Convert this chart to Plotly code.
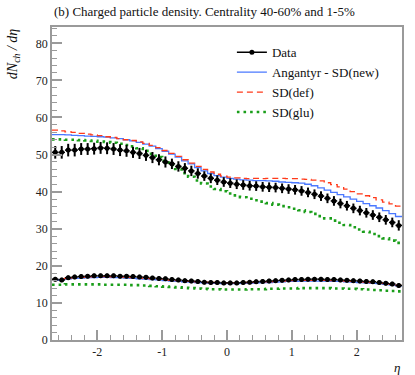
import numpy as np
import plotly.graph_objects as go

# eta bins (width 0.1, from -2.7 to 2.7)
eta_edges = np.round(np.linspace(-2.7, 2.7, 55), 2)
eta = np.round((eta_edges[:-1] + eta_edges[1:]) / 2, 3)

# centrality 1-5% (upper curves)
data_hi = [50.6, 50.6, 51.2, 51.2, 51.5, 51.5, 51.6, 51.8, 51.7, 51.5,
           51.2, 51.0, 50.6, 50.3, 49.8, 49.2, 48.6, 48.0, 47.5, 46.8,
           46.3, 45.6, 44.9, 44.2, 43.6, 43.1, 42.6, 42.3, 42.0, 41.8,
           41.6, 41.5, 41.3, 41.2, 41.1, 40.9, 40.7, 40.5, 40.2, 39.8,
           39.3, 38.8, 38.2, 37.5, 36.8, 36.2, 35.5, 34.9, 34.3, 33.7,
           33.1, 32.4, 31.7, 30.9]
err_hi = [1.7, 1.7, 1.7, 1.7, 1.6, 1.6, 1.6, 1.6, 1.6, 1.6,
          1.6, 1.6, 1.5, 1.5, 1.5, 1.5, 1.5, 1.5, 1.4, 1.4,
          1.4, 1.4, 1.4, 1.3, 1.3, 1.3, 1.3, 1.3, 1.3, 1.3,
          1.3, 1.3, 1.3, 1.3, 1.3, 1.3, 1.3, 1.3, 1.3, 1.3,
          1.3, 1.3, 1.3, 1.3, 1.3, 1.3, 1.3, 1.3, 1.3, 1.3,
          1.3, 1.3, 1.3, 1.4]
sdnew_hi = [55.4, 55.4, 55.3, 55.2, 55.1, 55.0, 54.9, 54.8, 54.7, 54.5,
            54.3, 54.0, 53.7, 53.3, 52.8, 52.3, 51.6, 50.9, 50.1, 49.3,
            48.3, 47.5, 46.5, 45.6, 44.9, 44.3, 43.9, 43.6, 43.4, 43.2,
            43.1, 43.0, 43.0, 42.9, 42.8, 42.6, 42.5, 42.4, 42.3, 42.0,
            41.6, 41.0, 40.4, 39.8, 39.2, 38.6, 38.0, 37.4, 36.8, 36.2,
            35.6, 34.9, 34.1, 33.3]
sddef_hi = [56.6, 56.4, 56.1, 56.0, 55.7, 55.5, 55.3, 55.1, 54.8, 54.6,
            54.3, 54.0, 53.8, 53.4, 53.0, 52.5, 51.9, 51.1, 50.3, 49.5,
            48.6, 47.7, 46.8, 46.0, 45.3, 44.7, 44.2, 43.9, 43.7, 43.6,
            43.5, 43.6, 43.5, 43.6, 43.6, 43.6, 43.5, 43.5, 43.4, 43.3,
            43.1, 42.9, 42.4, 41.9, 41.3, 40.7, 40.0, 39.4, 38.9, 38.4,
            37.8, 37.2, 36.7, 36.1]
sdglu_hi = [54.1, 54.1, 54.0, 54.0, 53.9, 53.8, 53.7, 53.5, 53.4, 53.2,
            52.9, 52.6, 52.2, 51.7, 51.0, 50.2, 49.3, 48.3, 47.2, 46.1,
            45.0, 44.0, 43.0, 42.2, 41.4, 40.7, 40.1, 39.5, 39.0, 38.5,
            38.1, 37.7, 37.3, 36.9, 36.5, 36.1, 35.8, 35.4, 35.0, 34.5,
            34.0, 33.4, 32.8, 32.2, 31.6, 31.0, 30.4, 29.8, 29.2, 28.6,
            28.0, 27.4, 26.8, 26.2]

# centrality 40-60% (lower curves)
data_lo = [16.4, 16.2, 16.8, 17.0, 17.1, 17.2, 17.3, 17.3, 17.3, 17.3,
           17.2, 17.2, 17.1, 17.0, 16.9, 16.7, 16.6, 16.5, 16.3, 16.2,
           16.0, 15.9, 15.8, 15.6, 15.5, 15.5, 15.4, 15.4, 15.4, 15.5,
           15.6, 15.7, 15.8, 15.9, 16.0, 16.1, 16.2, 16.3, 16.3, 16.4,
           16.4, 16.4, 16.3, 16.3, 16.2, 16.1, 16.0, 15.9, 15.8, 15.7,
           15.5, 15.3, 15.1, 14.7]
err_lo = [0.6] * 54
sdnew_lo = [16.1, 16.3, 16.5, 16.6, 16.7, 16.8, 16.8, 16.9, 16.9, 16.8,
            16.8, 16.7, 16.6, 16.5, 16.4, 16.3, 16.2, 16.0, 15.9, 15.8,
            15.7, 15.6, 15.5, 15.4, 15.3, 15.3, 15.2, 15.2, 15.2, 15.3,
            15.3, 15.4, 15.5, 15.5, 15.6, 15.7, 15.8, 15.8, 15.9, 15.9,
            15.9, 15.9, 15.9, 15.8, 15.8, 15.7, 15.6, 15.5, 15.4, 15.3,
            15.2, 15.0, 14.8, 14.6]
sddef_lo = [16.3, 16.5, 16.7, 16.8, 16.9, 17.0, 17.0, 17.1, 17.1, 17.0,
            17.0, 16.9, 16.8, 16.7, 16.6, 16.5, 16.4, 16.2, 16.1, 16.0,
            15.9, 15.8, 15.7, 15.6, 15.5, 15.5, 15.4, 15.4, 15.4, 15.5,
            15.5, 15.6, 15.7, 15.7, 15.8, 15.9, 16.0, 16.0, 16.1, 16.1,
            16.1, 16.1, 16.1, 16.0, 16.0, 15.9, 15.8, 15.7, 15.6, 15.5,
            15.4, 15.2, 15.0, 14.8]
sdglu_lo = [14.9, 14.9, 15.0, 15.0, 15.0, 15.0, 15.0, 15.0, 14.9, 14.9,
            14.9, 14.9, 14.8, 14.8, 14.7, 14.6, 14.5, 14.4, 14.3, 14.2,
            14.1, 14.0, 13.9, 13.8, 13.7, 13.7, 13.6, 13.6, 13.6, 13.6,
            13.7, 13.7, 13.7, 13.8, 13.8, 13.9, 13.9, 13.9, 14.0, 14.0,
            14.0, 14.0, 14.0, 13.9, 13.9, 13.8, 13.8, 13.7, 13.6, 13.5,
            13.4, 13.3, 13.2, 13.1]

FONT = "Liberation Serif"
AXIS_GREY = "#9a9a9a"

mc_styles = [
    ("Angantyr - SD(new)", sdnew_hi, sdnew_lo, dict(color="#4a78ff", width=1.3)),
    ("SD(def)", sddef_hi, sddef_lo, dict(color="#ff3a1a", width=1.3, dash="6px,4px")),
    ("SD(glu)", sdglu_hi, sdglu_lo, dict(color="#1a9e1a", width=2.6, dash="2.6px,4px")),
]

fig = go.Figure()

# legend entry for data
fig.add_trace(go.Scatter(
    x=[None], y=[None], mode="lines+markers", name="Data",
    line=dict(color="black", width=1.5),
    marker=dict(color="black", size=5),
))

for name, hi, lo, line in mc_styles:
    for i, vals in enumerate([hi, lo]):
        fig.add_trace(go.Scatter(
            x=eta_edges, y=list(vals) + [vals[-1]],
            mode="lines", line_shape="hv", line=line,
            name=name, legendgroup=name, showlegend=(i == 0),
        ))

for vals, errs in [(data_hi, err_hi), (data_lo, err_lo)]:
    fig.add_trace(go.Scatter(
        x=eta, y=vals, mode="markers", showlegend=False,
        marker=dict(color="black", size=5),
        error_y=dict(type="data", array=errs, color="black", thickness=2, width=0),
        error_x=dict(type="constant", value=0.05, color="black", thickness=1.5, width=0),
    ))

fig.update_xaxes(
    range=[-2.7, 2.7],
    tickvals=[-2, -1, 0, 1, 2], ticktext=["-2", "-1", "0", "1", "2"],
    ticks="inside", ticklen=10, tickwidth=1.5, tickcolor=AXIS_GREY,
    minor=dict(dtick=0.2, tick0=0, ticks="inside", ticklen=5, tickcolor=AXIS_GREY, tickwidth=1),
    showline=True, linecolor=AXIS_GREY, linewidth=1.5, mirror=True,
    showgrid=False, zeroline=False,
    tickfont=dict(family=FONT, size=12, color="#222"),
)
fig.update_yaxes(
    range=[0, 84.4],
    tickvals=[0, 10, 20, 30, 40, 50, 60, 70, 80],
    ticks="inside", ticklen=10, tickwidth=1.5, tickcolor=AXIS_GREY,
    minor=dict(dtick=2, tick0=0, ticks="inside", ticklen=5, tickcolor=AXIS_GREY, tickwidth=1),
    showline=True, linecolor=AXIS_GREY, linewidth=1.5, mirror=True,
    showgrid=False, zeroline=False,
    tickfont=dict(family=FONT, size=12, color="#222"),
)

fig.add_annotation(
    text="(b) Charged particle density. Centrality 40-60% and 1-5%",
    xref="paper", yref="paper", x=0, y=1.048, xanchor="left", yanchor="middle",
    showarrow=False, font=dict(family=FONT, size=13, color="#111"),
)
fig.add_annotation(
    text="<i>dN</i><sub><i>ch</i></sub><i> / dη</i>",
    xref="paper", yref="paper", x=-0.111, y=1.0, xanchor="center", yanchor="top",
    textangle=-90, showarrow=False, font=dict(family=FONT, size=14, color="#111"),
)
fig.add_annotation(
    text="<i>η</i>", xref="paper", yref="paper", x=1.0, y=-0.089,
    xanchor="right", yanchor="middle", showarrow=False,
    font=dict(family=FONT, size=13, color="#111"),
)

fig.update_layout(
    width=415, height=375,
    margin=dict(l=52, r=13, t=27, b=35),
    paper_bgcolor="white", plot_bgcolor="white",
    showlegend=True,
    legend=dict(
        x=0.514, y=0.967, xanchor="left", yanchor="top",
        bgcolor="rgba(0,0,0,0)", font=dict(family=FONT, size=13, color="#111"),
        tracegroupgap=0, itemwidth=30,
    ),
)

fig.write_html(
    "out.html",
    config={"displayModeBar": False},
    post_script="document.body.style.margin='0';",
)
